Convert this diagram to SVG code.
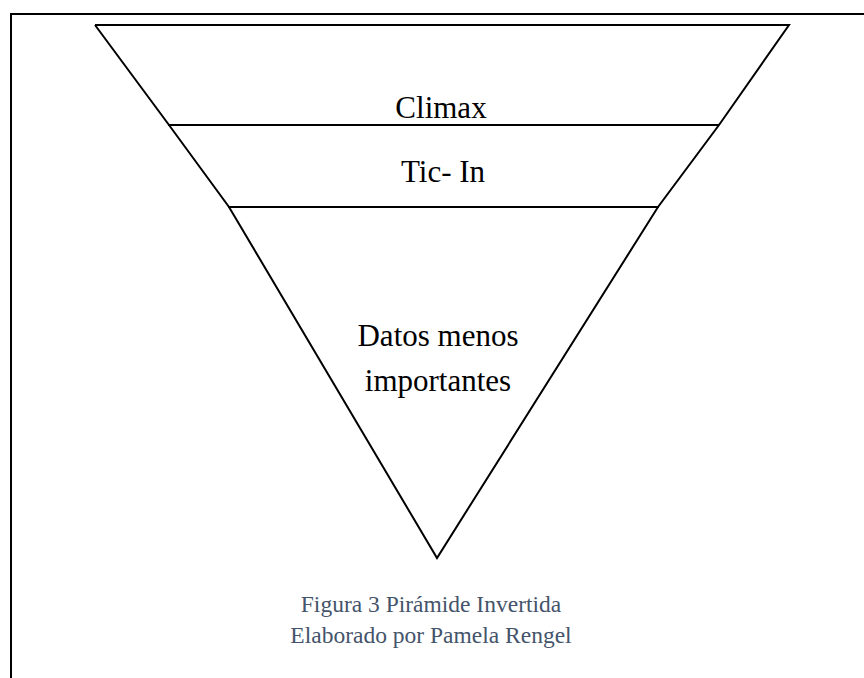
<svg xmlns="http://www.w3.org/2000/svg" width="864" height="678" viewBox="0 0 864 678">
<style>
.ln{stroke:#000;fill:none;stroke-width:2;stroke-linecap:butt}
.t{font-family:"Liberation Serif","Times New Roman",serif;font-size:31px;fill:#000;text-anchor:middle}
.cap{font-family:"Liberation Serif","Times New Roman",serif;font-size:23.5px;fill:#44546A;text-anchor:middle}
</style>
<rect width="864" height="678" fill="#fff"/>
<g id="frame">
<polyline class="ln" points="11,678 11,14 864,14" stroke-width="2.5"/>
</g>
<g id="connectors">
<polyline class="ln" points="95,25 789,25 719,125 658,207 437,558 229,207 169,125 95,25"/>
<line class="ln" x1="168" y1="125" x2="719" y2="125" stroke-width="3.5"/>
<line class="ln" x1="228" y1="207" x2="659" y2="207"/>
</g>
<g id="climax"><text class="t" x="441" y="118">Climax</text></g>
<g id="ticin"><text class="t" x="443" y="182">Tic- In</text></g>
<g id="datos"><text class="t" x="438" y="346">Datos menos</text><text class="t" x="438" y="391">importantes</text></g>
<g id="caption"><text class="cap" x="431" y="612">Figura 3 Pirámide Invertida</text><text class="cap" x="431" y="643">Elaborado por Pamela Rengel</text></g>
</svg>
